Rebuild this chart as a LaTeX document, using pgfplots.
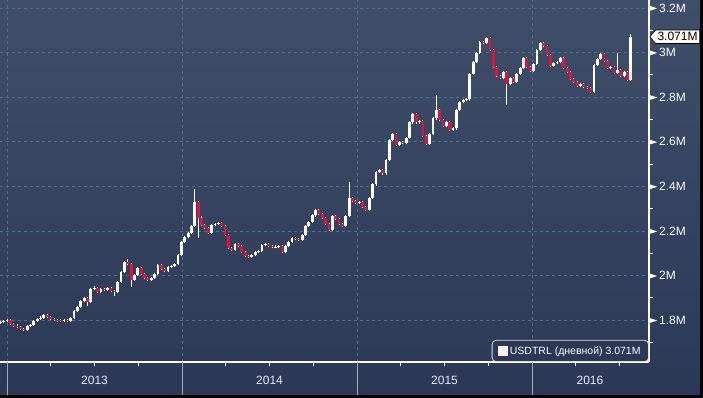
\documentclass[border=0pt]{standalone}
\usepackage{pgfplots}
\pgfplotsset{compat=1.18}
\usepackage{pgfplotstable}
\usepackage{fontspec}
\setmainfont{Liberation Sans}
\usetikzlibrary{shapes.symbols}
\definecolor{bgtop}{RGB}{63,78,105}
\definecolor{bgbot}{RGB}{43,57,87}
\definecolor{gridc}{RGB}{80,112,142}
\definecolor{candred}{RGB}{225,18,60}
\definecolor{sepc}{RGB}{165,170,185}

% weekly OHLC, x = weeks since 1 Jan 2013, values in millions TRL
\pgfplotstableread{
k o h l c
-2 1.788 1.798 1.782 1.792
-1 1.792 1.802 1.786 1.796
0 1.796 1.807 1.790 1.801
1 1.801 1.807 1.777 1.783
2 1.783 1.789 1.770 1.776
3 1.776 1.782 1.764 1.770
4 1.770 1.776 1.755 1.761
5 1.761 1.767 1.750 1.756
6 1.756 1.780 1.750 1.774
7 1.774 1.785 1.768 1.779
8 1.779 1.802 1.773 1.796
9 1.796 1.811 1.790 1.805
10 1.805 1.818 1.799 1.812
11 1.812 1.829 1.806 1.823
12 1.823 1.829 1.808 1.814
13 1.814 1.820 1.799 1.805
14 1.805 1.811 1.795 1.801
15 1.801 1.807 1.793 1.799
16 1.799 1.805 1.790 1.796
17 1.796 1.807 1.790 1.801
18 1.801 1.807 1.790 1.796
19 1.796 1.816 1.790 1.810
20 1.810 1.847 1.804 1.841
21 1.841 1.865 1.835 1.859
22 1.859 1.892 1.853 1.886
23 1.886 1.906 1.880 1.900
24 1.900 1.906 1.862 1.882
25 1.882 1.946 1.876 1.940
26 1.940 1.955 1.934 1.944
27 1.944 1.950 1.920 1.926
28 1.926 1.946 1.920 1.940
29 1.940 1.946 1.929 1.935
30 1.935 1.950 1.929 1.944
31 1.944 1.950 1.925 1.931
32 1.931 1.937 1.910 1.926
33 1.926 1.977 1.920 1.971
34 1.971 2.022 1.965 2.016
35 2.016 2.067 2.010 2.061
36 2.061 2.073 2.046 2.052
37 2.052 2.058 1.948 1.980
38 1.980 2.009 1.974 2.003
39 2.003 2.040 1.997 2.034
40 2.034 2.040 2.001 2.007
41 2.007 2.013 1.983 1.989
42 1.989 1.995 1.974 1.980
43 1.980 1.995 1.974 1.989
44 1.989 2.013 1.983 2.007
45 2.007 2.053 2.001 2.047
46 2.047 2.053 2.024 2.030
47 2.030 2.036 2.015 2.021
48 2.021 2.045 2.015 2.039
49 2.039 2.049 2.033 2.043
50 2.043 2.058 2.037 2.052
51 2.052 2.098 2.046 2.092
52 2.092 2.157 2.086 2.151
53 2.151 2.179 2.145 2.173
54 2.173 2.197 2.167 2.191
55 2.191 2.228 2.185 2.222
56 2.222 2.388 2.216 2.330
57 2.330 2.336 2.170 2.260
58 2.260 2.266 2.221 2.227
59 2.227 2.233 2.207 2.213
60 2.213 2.219 2.185 2.191
61 2.191 2.233 2.185 2.227
62 2.227 2.237 2.221 2.231
63 2.231 2.242 2.225 2.236
64 2.236 2.242 2.216 2.222
65 2.222 2.228 2.176 2.182
66 2.182 2.188 2.118 2.124
67 2.124 2.130 2.109 2.115
68 2.115 2.148 2.109 2.142
69 2.142 2.148 2.127 2.133
70 2.133 2.139 2.100 2.106
71 2.106 2.112 2.082 2.088
72 2.088 2.094 2.077 2.083
73 2.083 2.098 2.077 2.092
74 2.092 2.112 2.086 2.106
75 2.106 2.116 2.100 2.110
76 2.110 2.143 2.104 2.137
77 2.137 2.148 2.131 2.142
78 2.142 2.148 2.127 2.133
79 2.133 2.139 2.122 2.128
80 2.128 2.136 2.122 2.130
81 2.130 2.139 2.124 2.133
82 2.133 2.139 2.100 2.106
83 2.106 2.139 2.100 2.133
84 2.133 2.157 2.127 2.151
85 2.151 2.175 2.145 2.169
86 2.169 2.175 2.158 2.164
87 2.164 2.170 2.154 2.160
88 2.160 2.188 2.154 2.182
89 2.182 2.228 2.176 2.222
90 2.222 2.246 2.216 2.240
91 2.240 2.277 2.234 2.271
92 2.271 2.300 2.265 2.294
93 2.294 2.300 2.270 2.276
94 2.276 2.282 2.252 2.258
95 2.258 2.264 2.225 2.231
96 2.231 2.237 2.198 2.204
97 2.204 2.273 2.198 2.267
98 2.267 2.273 2.248 2.254
99 2.254 2.260 2.225 2.231
100 2.231 2.237 2.216 2.222
101 2.222 2.273 2.216 2.267
102 2.267 2.420 2.261 2.348
103 2.348 2.354 2.328 2.334
104 2.334 2.340 2.319 2.325
105 2.325 2.336 2.319 2.330
106 2.330 2.336 2.301 2.307
107 2.307 2.313 2.288 2.294
108 2.294 2.354 2.288 2.348
109 2.348 2.416 2.342 2.410
110 2.410 2.470 2.404 2.464
111 2.464 2.479 2.458 2.473
112 2.473 2.479 2.453 2.459
113 2.459 2.524 2.453 2.518
114 2.518 2.614 2.512 2.608
115 2.608 2.641 2.602 2.635
116 2.635 2.641 2.579 2.585
117 2.585 2.605 2.579 2.599
118 2.599 2.605 2.588 2.594
119 2.594 2.623 2.588 2.617
120 2.617 2.694 2.611 2.688
121 2.688 2.730 2.682 2.724
122 2.724 2.730 2.682 2.688
123 2.688 2.699 2.682 2.693
124 2.693 2.699 2.620 2.626
125 2.626 2.632 2.584 2.590
126 2.590 2.641 2.584 2.635
127 2.635 2.712 2.629 2.706
128 2.706 2.810 2.700 2.742
129 2.742 2.748 2.692 2.698
130 2.698 2.704 2.665 2.671
131 2.671 2.694 2.665 2.688
132 2.688 2.694 2.647 2.653
133 2.653 2.666 2.647 2.660
134 2.660 2.748 2.654 2.742
135 2.742 2.784 2.736 2.778
136 2.778 2.793 2.772 2.787
137 2.787 2.796 2.781 2.790
138 2.790 2.910 2.784 2.904
139 2.904 2.964 2.898 2.958
140 2.958 3.004 2.952 2.998
141 2.998 3.053 2.992 3.047
142 3.047 3.053 3.037 3.043
143 3.043 3.071 3.037 3.065
144 3.065 3.071 3.005 3.011
145 3.011 3.017 2.929 2.935
146 2.935 2.941 2.889 2.895
147 2.895 2.901 2.880 2.886
148 2.886 2.919 2.880 2.913
149 2.913 2.919 2.765 2.859
150 2.859 2.892 2.853 2.886
151 2.886 2.892 2.862 2.868
152 2.868 2.910 2.862 2.904
153 2.904 2.937 2.898 2.931
154 2.931 2.982 2.925 2.976
155 2.976 2.982 2.929 2.935
156 2.935 2.941 2.912 2.918
157 2.918 2.955 2.912 2.949
158 2.949 3.017 2.943 3.011
159 3.011 3.049 3.005 3.043
160 3.043 3.049 3.023 3.029
161 3.029 3.035 2.983 2.989
162 2.989 2.995 2.934 2.940
163 2.940 2.959 2.934 2.953
164 2.953 2.964 2.947 2.958
165 2.958 2.982 2.952 2.976
166 2.976 2.982 2.925 2.931
167 2.931 2.937 2.907 2.913
168 2.913 2.919 2.876 2.882
169 2.882 2.888 2.862 2.868
170 2.868 2.874 2.844 2.850
171 2.850 2.865 2.844 2.859
172 2.859 2.865 2.840 2.846
173 2.846 2.852 2.835 2.841
174 2.841 2.847 2.817 2.823
175 2.823 2.950 2.817 2.944
176 2.944 2.977 2.938 2.971
177 2.971 3.000 2.965 2.994
178 2.994 3.000 2.956 2.962
179 2.962 2.968 2.925 2.931
180 2.931 2.941 2.925 2.935
181 2.935 2.941 2.903 2.909
182 2.909 3.000 2.903 2.922
183 2.922 2.928 2.889 2.895
184 2.895 2.919 2.889 2.913
185 2.913 2.919 2.871 2.877
186 2.877 3.085 2.871 3.071
}\ohlc

\newcommand\tri{\tikz[baseline=-0.6ex]\fill[white] (0pt,2.6pt)--(8pt,0pt)--(0pt,-2.6pt)--cycle;}

\begin{document}
\begin{tikzpicture}
\fill[black] (0pt,0pt) rectangle (703pt,398pt);
\shade[top color=bgtop, bottom color=bgbot] (0pt,3pt) rectangle (700pt,397pt);
\begin{axis}[
  at={(0pt,398pt)}, anchor=north west,
  width=649pt, height=362pt, scale only axis,
  xmin=-2.087, xmax=191.41,
  ymin=1.6126, ymax=3.2359,
  clip=false,
  axis x line*=bottom, axis y line*=right,
  axis line style={-, white, line width=1.3pt},
  tick align=outside,
  major tick length=0pt, minor tick length=4pt,
  every minor tick/.style={white, line width=1pt},
  xtick={0,52.18,104.36,156.54}, xticklabels={},
  minor xtick={13.045,26.09,39.135,65.225,78.27,91.315,117.405,130.45,143.495,169.585,182.63},
  ytick={1.8,2,2.2,2.4,2.6,2.8,3,3.2},
  yticklabels={\tri\,1.8M,\tri\,2M,\tri\,2.2M,\tri\,2.4M,\tri\,2.6M,\tri\,2.8M,\tri\,3M,\tri\,3.2M},
  minor ytick={1.7,1.9,2.1,2.3,2.5,2.7,2.9,3.1},
  yticklabel style={text=white, inner sep=0pt, anchor=west, font=\fontsize{12}{12}\selectfont},
  grid=major,
  major grid style={gridc, dash pattern=on 3pt off 3pt, line width=0.8pt},
  legend style={at={(rel axis cs:1,0)}, anchor=south east, fill=bgbot, draw=white!75!gray,
    rounded corners=4pt, text=white, font=\fontsize{10.5}{12}\selectfont,
    inner xsep=6pt, inner ysep=4pt, line width=0.8pt, legend cell align=left},
]
\addlegendimage{legend image code/.code={\fill[white!94!red, sharp corners] (0pt,-4.5pt) rectangle (9pt,4.5pt);}}
\addlegendentry{USDTRL (дневной) 3.071M}
% wicks
\addplot[forget plot, draw=none, mark=none,
  error bars/.cd, y dir=plus, y explicit, error mark=none,
  error bar style={draw=white, line width=0.9pt}]
  table[x=k, y=l, y error plus expr=\thisrow{h}-\thisrow{l}] {\ohlc};
% rising bodies
\addplot[forget plot, draw=none, mark=none,
  restrict expr to domain={\thisrow{c}-\thisrow{o}}{0:10},
  error bars/.cd, y dir=plus, y explicit, error mark=none,
  error bar style={draw=white, line width=2.8pt}]
  table[x=k, y=o, y error plus expr=\thisrow{c}-\thisrow{o}] {\ohlc};
% falling bodies
\addplot[forget plot, draw=none, mark=none,
  restrict expr to domain={\thisrow{o}-\thisrow{c}}{0.0001:10},
  error bars/.cd, y dir=plus, y explicit, error mark=none,
  error bar style={draw=candred, line width=2.8pt}]
  table[x=k, y=c, y error plus expr=\thisrow{o}-\thisrow{c}] {\ohlc};
% year separators and labels
\draw[sepc, line width=1pt] (axis cs:0,1.6126) -- ++(0pt,-33pt);
\draw[sepc, line width=1pt] (axis cs:52.18,1.6126) -- ++(0pt,-33pt);
\draw[sepc, line width=1pt] (axis cs:104.36,1.6126) -- ++(0pt,-33pt);
\draw[sepc, line width=1pt] (axis cs:156.54,1.6126) -- ++(0pt,-33pt);
\node[text=white!92!blue, font=\fontsize{12}{12}\selectfont] at (axis cs:26.09,1.6126) [yshift=-18pt] {2013};
\node[text=white!92!blue, font=\fontsize{12}{12}\selectfont] at (axis cs:78.27,1.6126) [yshift=-18pt] {2014};
\node[text=white!92!blue, font=\fontsize{12}{12}\selectfont] at (axis cs:130.45,1.6126) [yshift=-18pt] {2015};
\node[text=white!92!blue, font=\fontsize{12}{12}\selectfont] at (axis cs:173.8,1.6126) [yshift=-18pt] {2016};
% last value tag
\node[signal, signal to=west, signal pointer angle=100, fill=white!95!orange, draw=black,
  line width=0.6pt, text=black, font=\fontsize{12}{12}\selectfont,
  inner xsep=2pt, inner ysep=2.5pt, anchor=west] at (axis cs:191.41,3.071) [xshift=0.5pt] {3.071M};
\end{axis}
\pgfresetboundingbox
\path (0pt,0pt) rectangle (703pt,398pt);
\end{tikzpicture}
\end{document}
